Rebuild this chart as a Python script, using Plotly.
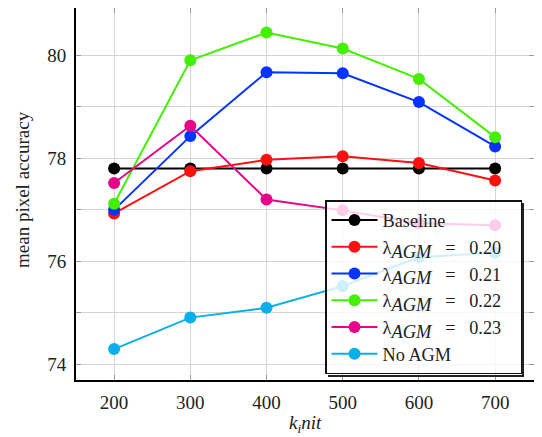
import plotly.graph_objects as go

k_init = [200, 300, 400, 500, 600, 700]
baseline = [77.8, 77.8, 77.8, 77.8, 77.8, 77.8]
agm_020 = [76.93, 77.75, 77.97, 78.04, 77.91, 77.57]
agm_021 = [77.0, 78.43, 79.67, 79.65, 79.09, 78.23]
agm_022 = [77.12, 79.9, 80.44, 80.13, 79.54, 78.41]
agm_023 = [77.52, 78.63, 77.2, 76.99, 76.74, 76.7]
no_agm = [74.3, 74.91, 75.1, 75.52, 76.08, 76.17]

NB = "\u00a0"
lam = ("λ<sub><span style='font-size:18.5px'><i>AGM</i></span></sub>"
       + NB * 3 + "=" + NB * 3)
series = [
    ("Baseline", baseline, "#000000"),
    (lam + "0.20" + NB * 3, agm_020, "#ff1010"),
    (lam + "0.21" + NB * 3, agm_021, "#0533ff"),
    (lam + "0.22" + NB * 3, agm_022, "#44f000"),
    (lam + "0.23" + NB * 3, agm_023, "#e6058a"),
    ("No AGM", no_agm, "#0aaee8"),
]

FONT = "Liberation Serif, Times New Roman, serif"

fig = go.Figure()
for name, vals, col in series:
    fig.add_trace(go.Scatter(
        x=k_init, y=vals, name=name, mode="lines+markers",
        line=dict(color=col, width=2),
        marker=dict(color=col, size=12),
    ))

# The page adds an 8px body margin; compensate so the plot area lands at
# page x 76..534, y 8..380.
OFF = 8
W, H = 542 - OFF, 437 - OFF
L, R, T, B = 76 - OFF, 8, 0, 57
pw, ph = W - L - R, H - T - B

def px2x(px):
    return (px - OFF - L) / pw

def px2y(py):
    return (437 - B - py) / ph

leg_l, leg_t, leg_r, leg_b = 325, 200, 522, 375

shadow = [
    dict(type="line", xref="paper", yref="paper", layer="above",
         x0=px2x(leg_r + 1), x1=px2x(leg_r + 1), y0=px2y(leg_t + 3), y1=px2y(leg_b + 2),
         line=dict(color="#222", width=2)),
    dict(type="line", xref="paper", yref="paper", layer="above",
         x0=px2x(leg_l + 3), x1=px2x(leg_r + 2), y0=px2y(leg_b + 1), y1=px2y(leg_b + 1),
         line=dict(color="#222", width=2)),
]

fig.update_layout(
    width=W, height=H,
    margin=dict(l=L, r=R, t=T, b=B),
    paper_bgcolor="white", plot_bgcolor="white",
    font=dict(family=FONT, size=19, color="#222"),
    showlegend=True,
    legend=dict(
        x=px2x(leg_l), y=px2y(leg_t), xanchor="left", yanchor="top",
        bgcolor="rgba(255,255,255,0.8)", bordercolor="#111", borderwidth=1.5,
        font=dict(family=FONT, size=18.3, color="#222"),
        tracegroupgap=0, itemwidth=46,
    ),
    shapes=shadow,
    xaxis=dict(
        range=[150, 751], tickvals=k_init,
        showgrid=True, gridcolor="#d4d4d4", gridwidth=1,
        ticks="inside", ticklen=5, tickcolor="#999",
        showline=True, linecolor="#000", linewidth=2, mirror="ticks",
        zeroline=False, automargin=False,
        tickfont=dict(family=FONT, size=19, color="#222"),
        ticklabelstandoff=4,
    ),
    yaxis=dict(
        range=[73.7, 80.915], tickvals=[74, 76, 78, 80],
        showgrid=True, gridcolor="#d4d4d4", gridwidth=1,
        ticks="inside", ticklen=5, tickcolor="#999",
        minor=dict(tickvals=[75, 77, 79], ticks="inside", ticklen=5, tickcolor="#999",
                   showgrid=True, gridcolor="#d4d4d4", gridwidth=1),
        showline=True, linecolor="#000", linewidth=2, mirror="ticks",
        zeroline=False, automargin=False,
        tickfont=dict(family=FONT, size=19, color="#222"),
        ticklabelstandoff=4,
    ),
    annotations=[
        dict(text="mean pixel accuracy", textangle=-90, x=px2x(22), y=px2y(190),
             xref="paper", yref="paper", showarrow=False,
             xanchor="center", yanchor="middle",
             font=dict(family=FONT, size=19, color="#222")),
        dict(text="<i>k<sub>i</sub>nit</i>", x=px2x(305), y=px2y(424),
             xref="paper", yref="paper", showarrow=False,
             xanchor="center", yanchor="middle",
             font=dict(family=FONT, size=19, color="#222")),
    ],
)

fig.write_html("out.html")
